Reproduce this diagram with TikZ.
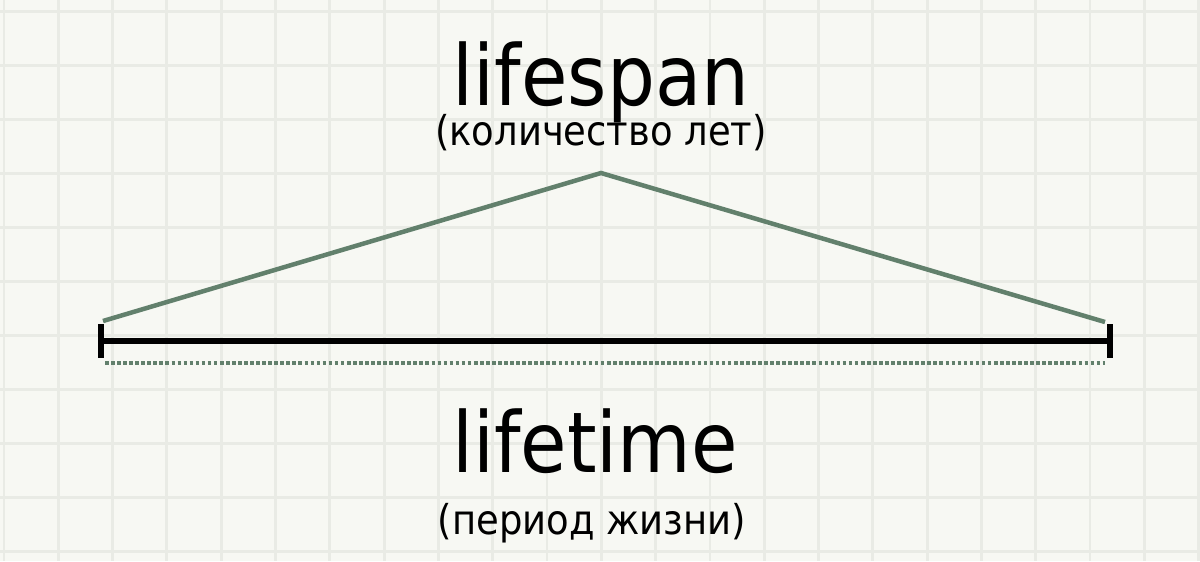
\documentclass[tikz,border=0pt]{standalone}
\usepackage{fontspec}
\setmainfont[FakeStretch=0.9]{DejaVu Sans}
\usetikzlibrary{positioning, arrows.meta}

\definecolor{paper}{HTML}{F7F8F3}
\definecolor{gridline}{HTML}{E9EBE5}
\definecolor{sage}{HTML}{62806C}

\begin{document}
\begin{tikzpicture}[x=0.025cm, y=-0.025cm,
        term/.style={anchor=base, inner sep=0pt, font=\fontsize{59.7}{60}\selectfont},
        gloss/.style={anchor=base, inner sep=0pt, font=\fontsize{29.2}{30}\selectfont},
        lifeline/.style={draw=sage, line width=3.2pt, line join=miter},
        periodbar/.style={draw=black, line width=4.6pt, {Bar[width=23.5pt]}-{Bar[width=23.5pt]}},
        dotline/.style={draw=sage, line width=2.3pt, dash pattern=on 2.6pt off 1.7pt}]
    \fill[paper] (0,0) rectangle (1200,561);
    \useasboundingbox (0,0) rectangle (1200,561);
    \foreach \i in {0,...,22}
        \draw[gridline, line width=2pt] ({4+54.3*\i},0) -- ({4+54.3*\i},561);
    \foreach \j in {0,...,10}
        \draw[gridline, line width=2pt] (0,{11.5+54*\j}) -- (1200,{11.5+54*\j});

    \node[term] (lifespan) at (601,105) {lifespan};
    \node[gloss] (lifespanRu) at (601,145) {(количество лет)};
    \node[term] (lifetime) at (595,472) {lifetime};
    \node[gloss] (lifetimeRu) at (592,534) {(период жизни)};

    \coordinate (apex) at (601,173);
    \coordinate (spanL) at (103,321);
    \coordinate (spanR) at (1105,322);
    \coordinate (barL) at (98,341);
    \coordinate (barR) at (1113,341);
    \coordinate (dotL) at (105,363);
    \coordinate (dotR) at (1105,363);

    \draw[lifeline] (spanL) -- (apex) -- (spanR);
    \draw[periodbar] (barL) -- (barR);
    \draw[dotline] (dotL) -- (dotR);
\end{tikzpicture}
\end{document}
